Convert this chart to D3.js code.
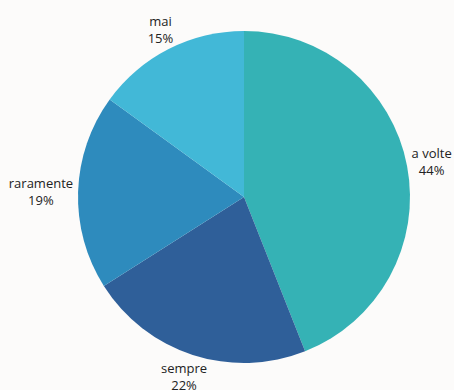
<!DOCTYPE html>
<html><head><meta charset="utf-8">
<script src="https://cdn.jsdelivr.net/npm/d3@7"></script>
<style>html,body{margin:0;padding:0;background:#fcfbfa;}svg{display:block;}</style>
</head><body>
<script>
const categories = ["a volte", "sempre", "raramente", "mai"];
const values = [44, 22, 19, 15];
const colors = ["#35b2b5", "#2f5f99", "#2e8bbd", "#42b8d7"];

const W = 454, H = 390, cx = 244, cy = 197, R = 166;
const svg = d3.select("body").append("svg").attr("width", W).attr("height", H);
const g = svg.append("g").attr("transform", `translate(${cx},${cy})`);
const pie = d3.pie().sort(null).value(d => d.v);
const data = pie(categories.map((c, i) => ({c, v: values[i], col: colors[i]})));
const arc = d3.arc().innerRadius(0).outerRadius(R);
g.selectAll("path").data(data).join("path").attr("d", arc).attr("fill", d => d.data.col);

const fs = 13, lh = 17, lr = 171;
data.forEach(d => {
  const a = (d.startAngle + d.endAngle) / 2;
  const px = Math.sin(a) * lr, py = -Math.cos(a) * lr;
  const t = g.append("text").attr("font-family", "'Open Sans', sans-serif").attr("font-size", fs)
    .attr("fill", "#222").attr("text-anchor", "middle");
  t.append("tspan").attr("x", 0).attr("dy", 0).text(d.data.c);
  t.append("tspan").attr("x", 0).attr("dy", lh).text(d.data.v + "%");
  const bb = t.node().getBBox();
  const w = bb.width, h = bb.height;
  const ox = px + Math.sin(a) * w / 2;
  const oyc = py - Math.cos(a) * h / 2;
  const bcy = bb.y + h / 2;
  t.attr("transform", `translate(${ox},${oyc - bcy})`);
});
</script>
</body></html>
